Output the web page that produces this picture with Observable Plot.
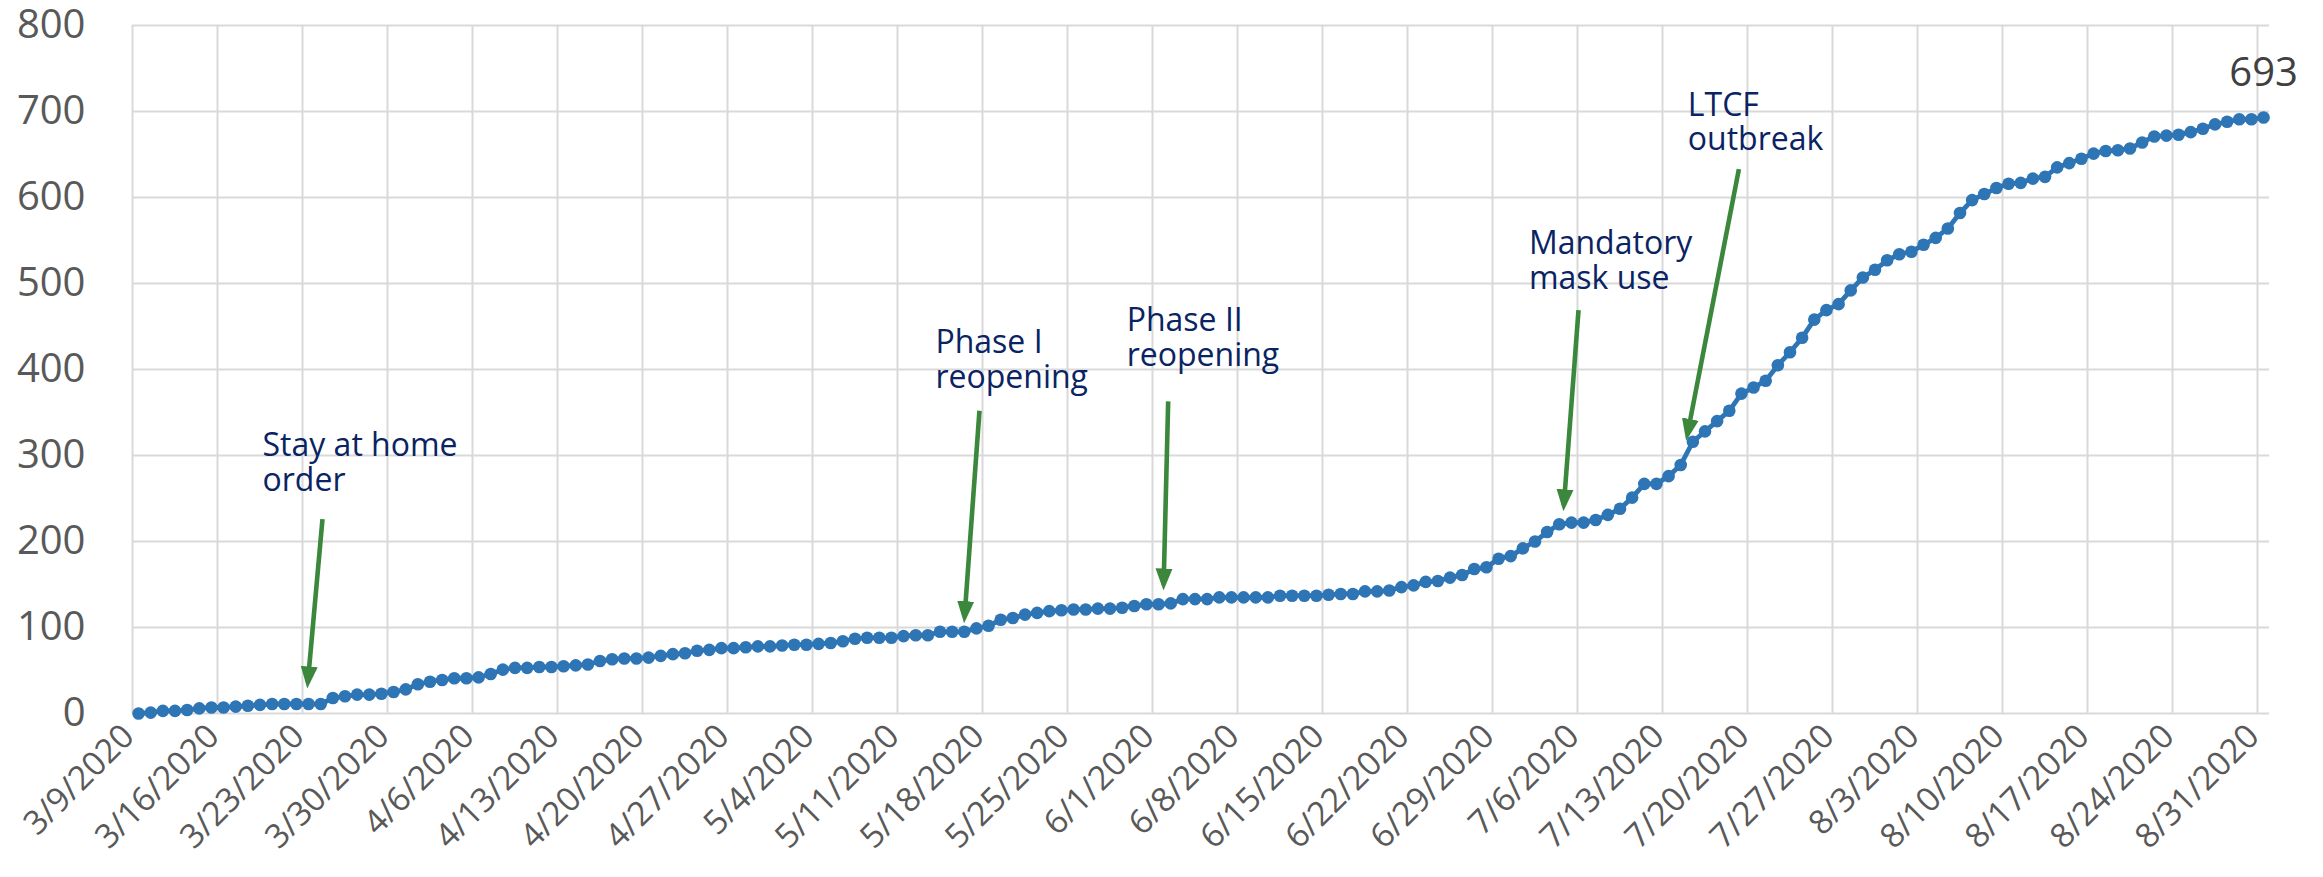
<!DOCTYPE html>
<html>
<head>
<meta charset="utf-8">
<script src="https://cdn.jsdelivr.net/npm/d3@7"></script>
<script src="https://cdn.jsdelivr.net/npm/@observablehq/plot@0.6"></script>
<style>
html,body{margin:0;padding:0;background:#fff;}
#chart svg{display:block;}
</style>
</head>
<body>
<div id="chart"></div>
<script>
// ---- data (cumulative counts, one value per day from 3/9/2020) ----
const startYear = 2020, startMonth = 2, startDay = 9; // 3/9/2020
const casesMar = [0,1,3,3,4,6,7,7,8,9,10,11,11,11,11,11,18,20,22,22,23,25,28];
const casesApr = [34,37,39,41,41,42,46,51,53,53,54,54,55,56,57,61,63,64,64,65,67,69,70,73,74,76,76,77,78,78];
const casesMay = [79,80,80,81,82,84,87,88,88,88,90,91,91,95,95,95,99,102,109,111,115,117,119,120,121,121,122,122,123,125,127];
const casesJun = [127,128,133,133,133,135,135,135,135,135,137,137,137,137,138,139,139,142,142,143,147,149,153,154,158,161,168,170,180,183];
const casesJul = [192,200,211,220,222,222,225,231,238,251,267,267,276,289,316,328,340,352,372,379,387,405,420,437,458,469,476,492,507,516,527];
const casesAug = [534,537,545,553,564,582,597,604,611,616,617,622,624,635,640,645,651,654,655,657,664,671,672,673,676,680,685,688,691,691,693];

const weekTickLabels = ["3/9/2020","3/16/2020","3/23/2020","3/30/2020","4/6/2020","4/13/2020","4/20/2020","4/27/2020","5/4/2020","5/11/2020","5/18/2020","5/25/2020","6/1/2020","6/8/2020","6/15/2020","6/22/2020","6/29/2020","7/6/2020","7/13/2020","7/20/2020","7/27/2020","8/3/2020","8/10/2020","8/17/2020","8/24/2020","8/31/2020"];
const yTicks = [0,100,200,300,400,500,600,700,800];

const annotationTexts = ["Stay at home\norder","Phase I\nreopening","Phase II\nreopening","Mandatory\nmask use","LTCF\noutbreak"];
const annotationDates = ["2020-03-19T17:00Z","2020-05-14T03:00Z","2020-05-29T21:00Z","2020-07-02T00:00Z","2020-07-15T02:00Z"];
const annotationValues = [292,412,437,527,688];

const arrowFromDates = ["2020-03-24T15:30Z","2020-05-17T18:00Z","2020-06-02T07:00Z","2020-07-06T02:00Z","2020-07-19T07:00Z"];
const arrowFromValues = [226,352,363,469,633];
const arrowToDates = ["2020-03-23T10:30Z","2020-05-16T12:30Z","2020-06-01T22:00Z","2020-07-04T21:00Z","2020-07-15T01:00Z"];
const arrowToValues = [36,112,150,242,324];

const lastLabel = "693";
const lastLabelValue = 745;

// ---- build tables ----
const values = [...casesMar, ...casesApr, ...casesMay, ...casesJun, ...casesJul, ...casesAug];
const series = values.map((v, i) => ({date: new Date(Date.UTC(startYear, startMonth, startDay + i, 12)), value: v}));
const parseTick = d3.utcParse("%m/%d/%Y");
const tickDates = weekTickLabels.map(parseTick);
const annotations = annotationTexts.map((t, i) => ({text: t, date: new Date(annotationDates[i]), value: annotationValues[i]}));
const arrows = arrowFromDates.map((d, i) => ({x1: new Date(d), y1: arrowFromValues[i], x2: new Date(arrowToDates[i]), y2: arrowToValues[i]}));
const last = series[series.length - 1];

const FONT = "'Open Sans', 'Noto Sans', sans-serif";
const GRID = "#d9d9d9";
const BLUE = "#2e75b6";
const GREEN = "#3b873b";
const NAVY = "#0a2463";

function filledHead(color, context) {
  const doc = (context && context.document) || document;
  const ns = "http://www.w3.org/2000/svg";
  const m = doc.createElementNS(ns, "marker");
  m.setAttribute("viewBox", "-16 -9 22 18");
  m.setAttribute("markerWidth", "22");
  m.setAttribute("markerHeight", "18");
  m.setAttribute("markerUnits", "userSpaceOnUse");
  m.setAttribute("orient", "auto");
  m.setAttribute("refX", "0");
  m.setAttribute("refY", "0");
  const p = doc.createElementNS(ns, "path");
  p.setAttribute("d", "M-16,-8.5L6,0L-16,8.5Z");
  p.setAttribute("fill", color);
  p.setAttribute("stroke", "none");
  m.appendChild(p);
  return m;
}

let arrowMark;
try {
  arrowMark = Plot.link(arrows, {x1: "x1", y1: "y1", x2: "x2", y2: "y2", stroke: GREEN, strokeWidth: 4.6, markerEnd: filledHead});
} catch (e) {
  arrowMark = Plot.arrow(arrows, {x1: "x1", y1: "y1", x2: "x2", y2: "y2", stroke: GREEN, strokeWidth: 4.6, headLength: 18, headAngle: 50});
}

const chart = Plot.plot({
  width: 2323,
  height: 877,
  marginLeft: 132,
  marginRight: 66,
  marginTop: 25,
  marginBottom: 164,
  style: {fontFamily: FONT, background: "#fff", overflow: "visible"},
  x: {type: "utc", domain: [tickDates[0], tickDates[tickDates.length - 1]], axis: null},
  y: {domain: [0, 800], axis: null},
  marks: [
    Plot.ruleY(yTicks, {y: d => d, x1: () => tickDates[0], x2: () => new Date(Date.UTC(2020, 8, 1)), stroke: GRID, strokeWidth: 2}),
    Plot.ruleX(tickDates, {x: d => d, stroke: GRID, strokeWidth: 2}),
    Plot.text(yTicks, {x: () => tickDates[0], y: d => d, text: d => String(d), textAnchor: "end", dx: -47, fontSize: 40, fill: "#595959"}),
    Plot.text(tickDates, {x: d => d, y: () => 0, text: (d, i) => weekTickLabels[i], rotate: -45, textAnchor: "end", dx: -4, dy: 17, fontSize: 33.5, fill: "#595959"}),
    Plot.line(series, {x: "date", y: "value", stroke: BLUE, strokeWidth: 4.8}),
    Plot.dot(series, {x: "date", y: "value", r: 6.3, fill: BLUE, stroke: "none"}),
    arrowMark,
    Plot.text(annotations, {x: "date", y: "value", text: "text", textAnchor: "start", lineHeight: 1.08, fontSize: 32, fill: NAVY}),
    Plot.text([last], {x: "date", y: () => lastLabelValue, text: () => lastLabel, textAnchor: "middle", fontSize: 40, fill: "#404040"})
  ]
});
document.getElementById("chart").appendChild(chart);
</script>
</body>
</html>
